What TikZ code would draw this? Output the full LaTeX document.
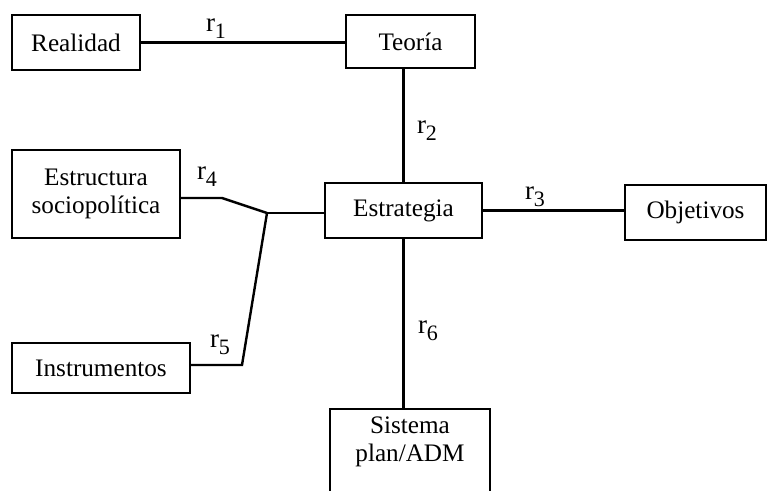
\documentclass[tikz,border=0pt]{standalone}
\usepackage{fontspec}
\setmainfont{Liberation Serif}
\usepackage{tikz}
\newcommand{\rsub}[1]{{\fontsize{13.5}{14}\selectfont r}\raisebox{-3.5pt}{\fontsize{11}{11}\selectfont #1}}

\begin{document}
\begin{tikzpicture}[x=0.5pt,y=-0.5pt,line width=1.2pt,
  box/.style={draw,inner sep=2pt,align=center,minimum height=27.5pt},
  rlabel/.style={inner sep=0pt}]
\fontsize{12.6}{13.8}\selectfont
\useasboundingbox (0,0) rectangle (767,491);
\node[box,minimum width=64pt] (real) at (76,42.5) {Realidad};
\node[box,minimum width=64.5pt,minimum height=26.5pt] (teo) at (410.5,41.5) {Teoría};
\node[box,minimum width=78.5pt] (est) at (403.5,210.5) {Estrategia};
\node[box,minimum width=70.5pt] (obj) at (695.5,212.5) {Objetivos};
\node[box,minimum width=84pt,minimum height=44pt] (estr) at (96,194) {Estructura\\sociopolítica};
\node[box,minimum width=89pt,minimum height=25pt] (inst) at (101,368) {Instrumentos};
\node[box,minimum width=80pt,minimum height=50pt,anchor=north] (sis) at (410,408) {};
\node[align=center,inner sep=0pt] (sistxt) at (410,442) {Sistema\\plan/ADM};
\coordinate (j) at (267,213);
\coordinate (b4) at (222,198);
\coordinate (b5) at (242,365);
\draw (real.east) -- (real.east -| teo.west);
\draw (est.north) -- (est.north |- teo.south);
\draw (est.east) -- (est.east -| obj.west);
\draw (est.south) -- (est.south |- sis.north);
\draw (j) -- (j -| est.west);
\draw (estr.east |- b4) -- (b4) -- (j);
\draw (inst.east |- b5) -- (b5) -- (j);
\node[rlabel] (r1) at (216,29) {\rsub{1}};
\node[rlabel] (r2) at (427,131) {\rsub{2}};
\node[rlabel] (r3) at (535,197) {\rsub{3}};
\node[rlabel] (r4) at (207,177) {\rsub{4}};
\node[rlabel] (r5) at (220,345) {\rsub{5}};
\node[rlabel] (r6) at (428,331) {\rsub{6}};
\end{tikzpicture}
\end{document}
